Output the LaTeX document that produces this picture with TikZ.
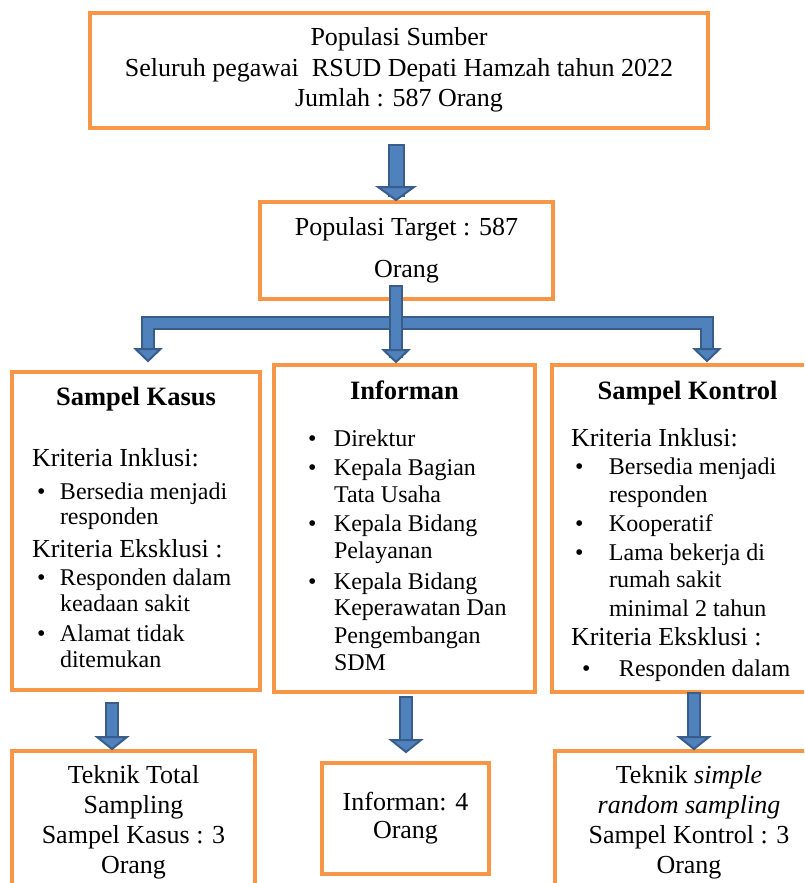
\documentclass[tikz,border=0pt]{standalone}
\usepackage{fontspec}
\setmainfont{Liberation Serif}
\usetikzlibrary{calc}
\definecolor{boxorange}{HTML}{F79646}
\definecolor{arrowfill}{HTML}{4F81BD}
\definecolor{arrowedge}{HTML}{385D8A}
\setlength\parindent{0pt}
% one line per paragraph, second argument = distance from the line above
\newcommand\sz[2]{\par\fontsize{#1}{#2}\selectfont\spaceskip=0pt\xspaceskip=0pt\noindent}
\newcommand\ttl[1]{\sz{26.5}{27}\makebox[\hsize]{\bfseries #1}}
\newcommand\krit[2]{\sz{26}{#1}#2}
\newcommand\bul[4]{\sz{24}{#1}\hspace*{#2pt}\makebox[#3pt][l]{\textbullet}#4}
\newcommand\cnt[3]{\sz{24}{#1}\hspace*{#2pt}#3}

\begin{document}
\begin{tikzpicture}
  [ x=1pt, y=-1pt
  , box/.style={rectangle, draw=boxorange, line width=4pt, anchor=north west, inner sep=0pt}
  , listbox/.style={box, align=left, inner xsep=20pt}
  , shaft/.style={draw=arrowedge, double=arrowfill, line width=2pt, double distance=10pt, line cap=rect}
  , head/.style={fill=arrowfill, draw=arrowedge, line width=2pt, line join=miter}]
  \useasboundingbox (0,0) rectangle (804,883);
  \clip (0,0) rectangle (804,883);
  % boxes
  \node (src) at (88,11) [box, minimum width=618pt, minimum height=114.5pt, align=center,
    font=\fontsize{26}{30.5}\selectfont]
    {Populasi Sumber\\Seluruh pegawai\ \ RSUD Depati Hamzah tahun 2022\\Jumlah : 587 Orang};
  \node (tgt) at (258,200) [box, minimum width=293pt, minimum height=97pt, align=center,
    font=\fontsize{26}{42}\selectfont] {Populasi Target : 587\\Orang};
  \node (kasus) at (10,370) [listbox, text width=208pt, minimum height=318pt]
    {\ttl{Sampel Kasus}
     \krit{61}{Kriteria Inklusi:}
     \bul{33}{5}{23}{Bersedia menjadi}
     \cnt{25}{28}{responden}
     \krit{33}{Kriteria Eksklusi :}
     \bul{28}{5}{23}{Responden dalam}
     \cnt{26}{28}{keadaan sakit}
     \bul{30}{5}{23}{Alamat tidak}
     \cnt{26}{28}{ditemukan\rule[-16pt]{0pt}{1pt}}\par};
  \node (inf) at (272,363) [listbox, text width=221pt, minimum height=327pt]
    {\ttl{Informan}
     \bul{47}{14}{26}{Direktur}
     \bul{29}{14}{26}{Kepala Bagian}
     \cnt{27}{40}{Tata Usaha}
     \bul{29}{14}{26}{Kepala Bidang}
     \cnt{27}{40}{Pelayanan}
     \bul{31}{14}{26}{Kepala Bidang}
     \cnt{26}{40}{Keperawatan Dan}
     \cnt{28}{40}{Pengembangan}
     \cnt{27}{40}{SDM\rule[-14pt]{0pt}{1pt}}\par};
  \node (kon) at (550,363) [listbox, inner xsep=19pt, text width=233pt, minimum height=327pt]
    {\ttl{Sampel Kontrol}
     \krit{47}{Kriteria Inklusi:}
     \bul{28}{4}{34}{Bersedia menjadi}
     \cnt{28}{38}{responden}
     \bul{29}{4}{34}{Kooperatif}
     \bul{29}{4}{34}{Lama bekerja di}
     \cnt{27}{38}{rumah sakit}
     \cnt{29}{38}{minimal 2 tahun}
     \krit{29}{Kriteria Eksklusi :}
     \bul{31}{11}{37}{Responden dalam\rule[-9pt]{0pt}{1pt}}\par};
  \node (tkasus) at (10,749) [box, minimum width=243pt, minimum height=143pt, align=center,
    font=\fontsize{26}{30}\selectfont] {Teknik Total\\Sampling\\Sampel Kasus : 3\\Orang};
  \node (tinf) at (320,761) [box, minimum width=167pt, minimum height=111pt, align=center,
    font=\fontsize{26}{28}\selectfont] {Informan: 4\\Orang};
  \node (tkon) at (553,749) [box, minimum width=268pt, minimum height=143pt, align=center,
    font=\fontsize{26}{30}\selectfont]
    {Teknik \textit{simple}\\\textit{random sampling}\\Sampel Kontrol : 3\\Orang};
  % arrows
  \coordinate (a1) at ($(src.south)+(-3,23)$);
  \coordinate (a1t) at (a1 |- tgt.north);
  \draw [shaft, double distance=13pt] (a1) -- ($(a1t)+(0,-12)$);
  \filldraw [head] ($(a1t)+(-18,-13)$) -- (a1t) -- ($(a1t)+(18,-13)$) -- cycle;
  \coordinate (b0) at ($(tgt.south)+(-10.5,-9)$);
  \coordinate (b0t) at ($(b0 |- inf.north)+(0,-1)$);
  \coordinate (bar) at ($(b0)+(0,31)$);
  \coordinate (bl) at ($(kasus.north)+(12,-9)$);
  \coordinate (br) at ($(kon.north)+(19.5,-2)$);
  \draw [shaft] ($(bl)+(0,-12)$) |- (bar) -| ($(br)+(0,-12)$);
  \draw [shaft] (b0) -- ($(b0t)+(0,-11)$);
  \filldraw [head] ($(bl)+(-12.5,-12)$) -- (bl) -- ($(bl)+(12.5,-12)$) -- cycle;
  \filldraw [head] ($(b0t)+(-12.5,-12)$) -- (b0t) -- ($(b0t)+(12.5,-12)$) -- cycle;
  \filldraw [head] ($(br)+(-12.5,-12)$) -- (br) -- ($(br)+(12.5,-12)$) -- cycle;
  \coordinate (c1) at ($(kasus.south)+(-24,17)$);
  \coordinate (c1t) at (c1 |- tkasus.north);
  \coordinate (c2) at ($(inf.south)+(1.5,9)$);
  \coordinate (c2t) at ($(c2 |- tinf.north)+(0,-9)$);
  \coordinate (c3) at ($(kon.south)+(6.5,5)$);
  \coordinate (c3t) at (c3 |- tkon.north);
  \foreach \s/\t in {c1/c1t, c2/c2t, c3/c3t} {
    \draw [shaft] (\s) -- ($(\t)+(0,-11)$);
    \filldraw [head] ($(\t)+(-15,-12)$) -- (\t) -- ($(\t)+(15,-12)$) -- cycle;
  }
\end{tikzpicture}
\end{document}
